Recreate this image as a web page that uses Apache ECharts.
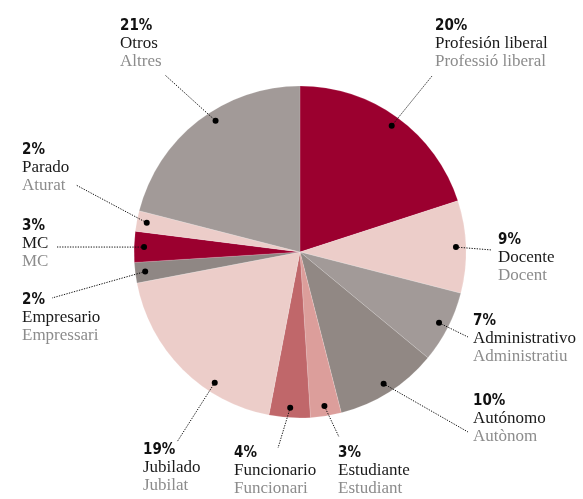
<!DOCTYPE html>
<html>
<head>
<meta charset="utf-8">
<script src="https://cdn.jsdelivr.net/npm/echarts@6/dist/echarts.min.js"></script>
<style>
  html, body { margin: 0; padding: 0; background: #fff; }
  #chart { width: 583px; height: 499px; }
</style>
</head>
<body>
<div id="chart"></div>
<script>
// ==================== 数据 ====================
var namesEs = ['Profesión liberal', 'Docente', 'Administrativo', 'Autónomo', 'Estudiante', 'Funcionario', 'Jubilado', 'Empresario', 'MC', 'Parado', 'Otros'];
var namesCa = ['Professió liberal', 'Docent', 'Administratiu', 'Autònom', 'Estudiant', 'Funcionari', 'Jubilat', 'Empressari', 'MC', 'Aturat', 'Altres'];
var percents = [20, 9, 7, 10, 3, 4, 19, 2, 3, 2, 21];

// colores de cada porción
var colors = ['#9b002f', '#eccdc9', '#a29a98', '#918884', '#dc9e9b', '#c0676a', '#eccdc9', '#8f8784', '#9b002f', '#eccdc9', '#a29a98'];

// posición de etiquetas: [textoX, textoY, finLineaX, finLineaY, desplazamiento del punto (%)]
var labelLayout = [
    [435, 17, 432, 76, 0],
    [498, 231, 492, 250, 0],
    [473, 312, 468, 337, 0],
    [473, 392, 468, 432, 0],
    [338, 444, 339, 437, 0],
    [234, 444, 278, 448, 0],
    [143, 441, 177, 442, -3.3],
    [22, 291, 52, 298, 0],
    [22, 217, 57, 247, 0],
    [22, 141, 76, 185, 0],
    [120, 17, 165, 75, 1.4]
];

var CX = 300, CY = 252, R = 166;

// ángulo medio acumulado de cada porción
var pieData = [], dotData = [];
var acc = 0;
for (var i = 0; i < percents.length; i++) {
    pieData.push({ name: namesEs[i], value: percents[i], itemStyle: { color: colors[i] } });
    dotData.push([0.94, acc + percents[i] / 2 + labelLayout[i][4], i]);
    acc += percents[i];
}

var myChart = echarts.init(document.getElementById('chart'));
var option = {
    animation: false,
    polar: { center: [CX, CY], radius: R },
    angleAxis: { type: 'value', min: 0, max: 100, startAngle: 90, clockwise: true, show: false },
    radiusAxis: { type: 'value', min: 0, max: 1, show: false },
    series: [{
        type: 'pie',
        center: [CX, CY],
        radius: [0, R],
        startAngle: 90,
        clockwise: true,
        z: 1,
        label: { show: false },
        labelLine: { show: false },
        emphasis: { disabled: true },
        itemStyle: { borderWidth: 0.3, borderColor: 'rgba(255,255,255,0.5)' },
        data: pieData
    }, {
        type: 'custom',
        coordinateSystem: 'polar',
        z: 5,
        data: dotData,
        renderItem: function (params, api) {
            var idx = api.value(2);
            var pt = api.coord([api.value(0), api.value(1)]);
            var lay = labelLayout[idx];
            return {
                type: 'group',
                children: [{
                    type: 'polyline',
                    shape: { points: [pt, [lay[2], lay[3]]] },
                    style: { stroke: '#111', lineWidth: 1, lineDash: [1.3, 1.3], fill: null }
                }, {
                    type: 'circle',
                    shape: { cx: pt[0], cy: pt[1], r: 3 },
                    style: { fill: '#000' }
                }, {
                    type: 'text',
                    x: lay[0],
                    y: lay[1],
                    style: {
                        text: '{p|' + percents[idx] + '%}\n{es|' + namesEs[idx] + '}\n{ca|' + namesCa[idx] + '}',
                        rich: {
                            p: { fontFamily: 'DejaVu Sans Condensed', fontWeight: 'bold', fontSize: 15, lineHeight: 18, fill: '#111' },
                            es: { fontFamily: 'Liberation Serif', fontSize: 17, lineHeight: 18, fill: '#1a1a1a' },
                            ca: { fontFamily: 'Liberation Serif', fontSize: 17, lineHeight: 17, fill: '#8c8c8c' }
                        }
                    }
                }]
            };
        }
    }]
};
myChart.setOption(option);
</script>
</body>
</html>
